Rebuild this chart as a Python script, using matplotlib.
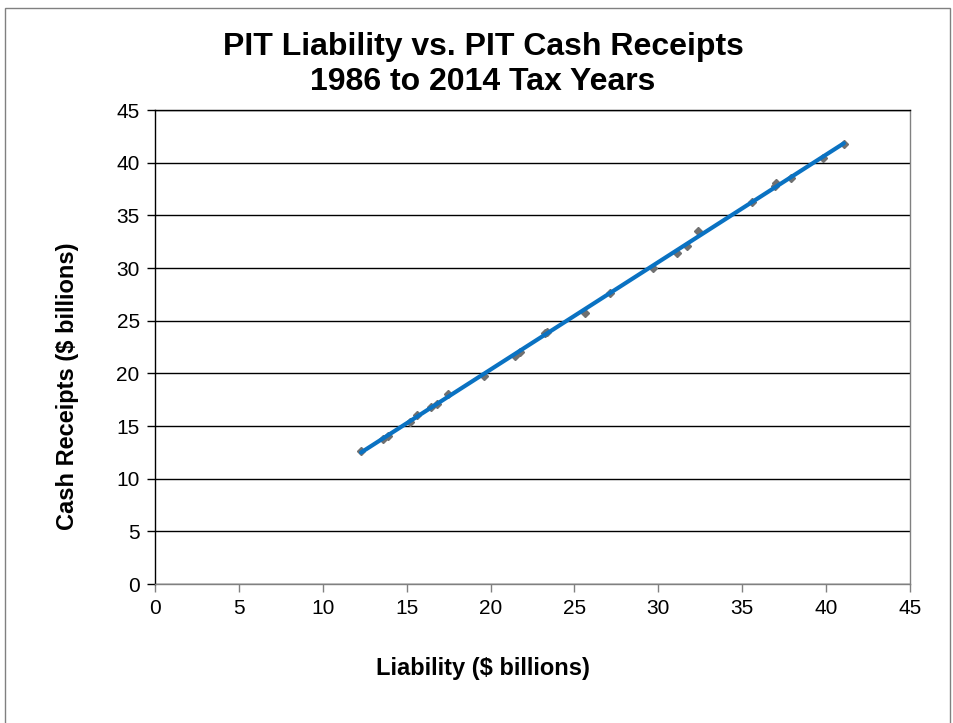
import numpy as np
import matplotlib
matplotlib.use("Agg")
import matplotlib.pyplot as plt
from matplotlib.patches import Rectangle

plt.rcParams['font.family'] = ['Liberation Sans', 'DejaVu Sans']

liability = [12.28, 13.59, 13.89, 15.20, 15.61, 16.45, 16.81, 17.46, 19.61,
             21.45, 21.75, 23.24, 23.35, 25.63, 27.10, 29.68, 31.11, 31.70,
             32.36, 35.58, 36.95, 37.00, 37.90, 39.81, 41.06]
receipts = [12.63, 13.77, 14.05, 15.38, 16.04, 16.80, 17.09, 18.04, 19.75,
            21.65, 22.03, 23.83, 23.95, 25.73, 27.63, 30.00, 31.43, 32.09,
            33.51, 36.27, 37.79, 38.07, 38.55, 40.44, 41.77]

x_ticks = [0, 5, 10, 15, 20, 25, 30, 35, 40, 45]
y_ticks = [0, 5, 10, 15, 20, 25, 30, 35, 40, 45]

fig = plt.figure(figsize=(9.54, 7.23), dpi=100)
fig.patches.append(Rectangle((5/954, -0.05), 945/954, 1.05 - 8/723,
                             transform=fig.transFigure, fill=False,
                             edgecolor='#808080', linewidth=1.0))
ax = fig.add_axes([155/954, 1 - 584/723, (910-155)/954, (584-110)/723])

ax.set_xlim(0, 45)
ax.set_ylim(0, 45)
ax.set_xticks(x_ticks)
ax.set_yticks(y_ticks)
ax.yaxis.grid(True, color='black', linewidth=1.0)
ax.set_axisbelow(True)
for s in ax.spines.values():
    s.set_color('#808080')
    s.set_linewidth(1.0)
ax.spines['left'].set_color('black')
ax.spines['top'].set_color('black')
ax.tick_params(axis='x', direction='out', length=6, width=1, color='#808080',
               labelsize=15, pad=5)
ax.tick_params(axis='y', direction='out', length=6, width=1, color='black',
               labelsize=15, pad=5)

lx = np.array(liability)
ry = np.array(receipts)
ax.plot(lx, ry, linestyle='none', marker='D', markersize=4.5, color='#707070', zorder=3)
coef = np.polyfit(lx, ry, 1)
xl = np.array([lx.min(), lx.max()])
ax.plot(xl, np.polyval(coef, xl), color='#0A72C2', linewidth=3, zorder=4,
        solid_capstyle='round')

fig.text(483/954, 1 - 55/723, "PIT Liability vs. PIT Cash Receipts",
         ha='center', va='baseline', fontsize=23, fontweight='bold')
fig.text(483/954, 1 - 90/723, "1986 to 2014 Tax Years",
         ha='center', va='baseline', fontsize=23, fontweight='bold')
fig.text(483/954, 1 - 675/723, "Liability ($ billions)", ha='center', va='baseline',
         fontsize=17, fontweight='bold')
fig.text(68/954, 1 - 386/723, "Cash Receipts ($ billions)", ha='center', va='center',
         rotation=90, fontsize=17, fontweight='bold')

fig.savefig("out.png", dpi=100)
